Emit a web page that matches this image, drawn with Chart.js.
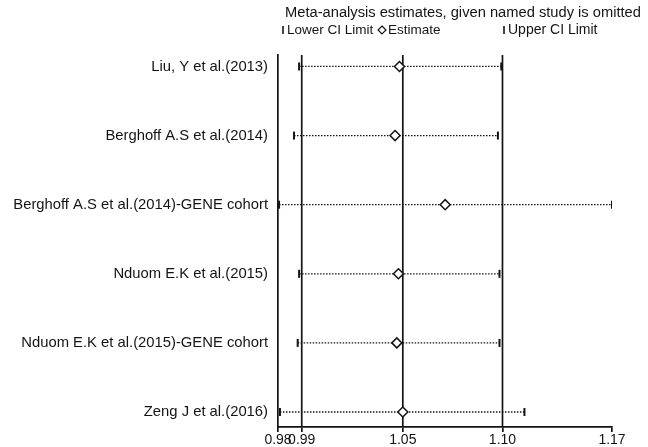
<!DOCTYPE html>
<html>
<head>
<meta charset="utf-8">
<script src="https://cdn.jsdelivr.net/npm/chart.js"></script>
<style>
  html,body{margin:0;padding:0;background:#fff}
  #wrap{width:648px;height:447px;position:relative}
</style>
</head>
<body>
<div id="wrap"><canvas id="grafik"></canvas></div>
<script>
// ================= DATA =================
const studies = [
  "Liu, Y et al.(2013)",
  "Berghoff A.S et al.(2014)",
  "Berghoff A.S et al.(2014)-GENE cohort",
  "Nduom E.K et al.(2015)",
  "Nduom E.K et al.(2015)-GENE cohort",
  "Zeng J et al.(2016)"
];
const estimate = [1.0491, 1.0466, 1.0751, 1.0485, 1.0476, 1.0510];
const lowerCI  = [0.9920, 0.9891, 0.9806, 0.9920, 0.9912, 0.9811];
const upperCI  = [1.1070, 1.1051, 1.1700, 1.1060, 1.1060, 1.1202];

// combined estimate and its CI (vertical reference lines)
const refLines = [0.9935, 1.0510, 1.1077];

const tickValues = [0.98, 0.9935, 1.0510, 1.1077, 1.17];
const tickLabels = ["0.98", "0.99", "1.05", "1.10", "1.17"];

const X_MIN = 0.98, X_MAX = 1.17;
const Y_MIN = -0.166, Y_MAX = 5.217;

const FONT = "'Liberation Sans', Arial, sans-serif";
const INK = "#141414";

// ================= DATASETS =================
const datasets = [];

// horizontal dotted CI lines
studies.forEach((s, i) => {
  datasets.push({
    type: "line",
    data: [{x: lowerCI[i], y: i}, {x: upperCI[i], y: i}],
    borderColor: INK,
    borderWidth: 1.3,
    borderDash: [1.5, 1.5],
    pointRadius: 0,
    order: 3
  });
});

// vertical reference lines
refLines.forEach(v => {
  datasets.push({
    type: "line",
    data: [{x: v, y: Y_MIN}, {x: v, y: Y_MAX}],
    borderColor: INK,
    borderWidth: 1.7,
    pointRadius: 0,
    order: 4
  });
});

datasets.push({
  type: "scatter",
  data: lowerCI.map((v, i) => ({x: v, y: i})),
  pointStyle: "line",
  rotation: 90,
  radius: 4,
  borderColor: INK,
  borderWidth: 2,
  order: 1
});
datasets.push({
  type: "scatter",
  data: upperCI.map((v, i) => ({x: v, y: i})),
  pointStyle: "line",
  rotation: 90,
  radius: 4,
  borderColor: INK,
  borderWidth: 2,
  order: 1
});
datasets.push({
  type: "scatter",
  data: estimate.map((v, i) => ({x: v, y: i})),
  pointStyle: "rectRot",
  radius: 5,
  backgroundColor: "#fff",
  borderColor: INK,
  borderWidth: 1.5,
  order: 0
});

// ================= TITLE + LEGEND =================
const legendPlugin = {
  id: "stataLegend",
  afterDraw(chart) {
    const c = chart.ctx;
    c.save();
    c.fillStyle = INK;
    c.textBaseline = "middle";
    c.textAlign = "left";
    c.font = "14.7px " + FONT;
    c.fillText("Meta-analysis estimates, given named study is omitted", 285, 13);

    const y = 30;
    c.font = "13.5px " + FONT;
    c.strokeStyle = INK;
    c.lineWidth = 1.6;
    // lower marker
    c.beginPath(); c.moveTo(283, y - 4); c.lineTo(283, y + 4); c.stroke();
    c.fillText("Lower CI Limit", 287, y);
    // estimate marker
    c.lineWidth = 1.2;
    c.beginPath();
    c.moveTo(382, y - 4); c.lineTo(386, y); c.lineTo(382, y + 4); c.lineTo(378, y); c.closePath();
    c.stroke();
    c.fillText("Estimate", 388, y);
    // upper marker
    c.lineWidth = 1.6;
    c.beginPath(); c.moveTo(504, y - 4); c.lineTo(504, y + 4); c.stroke();
    c.font = "14px " + FONT;
    c.fillText("Upper CI Limit", 508, y);
    c.restore();
  }
};

// ================= CHART =================
new Chart(document.getElementById("grafik"), {
  data: {datasets},
  plugins: [legendPlugin],
  options: {
    responsive: true,
    maintainAspectRatio: false,
    animation: false,
    layout: {padding: {top: 55, right: 36, left: 0, bottom: 0}},
    plugins: {legend: {display: false}, tooltip: {enabled: false}},
    scales: {
      x: {
        type: "linear",
        min: X_MIN,
        max: X_MAX,
        afterBuildTicks: s => { s.ticks = tickValues.map(v => ({value: v})); },
        afterFit: s => { s.height = 20; },
        ticks: {
          callback: (v, i) => tickLabels[i],
          color: INK,
          font: {family: FONT, size: 14},
          padding: 0,
          maxRotation: 0,
          autoSkip: false
        },
        grid: {display: true, drawOnChartArea: false, drawTicks: true, tickLength: 5, color: INK, lineWidth: 1.7},
        border: {display: true, color: INK, width: 1.7}
      },
      y: {
        type: "linear",
        reverse: true,
        min: Y_MIN,
        max: Y_MAX,
        afterBuildTicks: s => { s.ticks = studies.map((_, i) => ({value: i})); },
        afterFit: s => { s.width = 278; },
        ticks: {
          callback: (v, i) => studies[i],
          color: INK,
          font: {family: FONT, size: 14.8},
          padding: 10,
          autoSkip: false
        },
        grid: {display: false, drawTicks: false},
        border: {display: true, color: INK, width: 1.7}
      }
    }
  }
});
</script>
</body>
</html>
